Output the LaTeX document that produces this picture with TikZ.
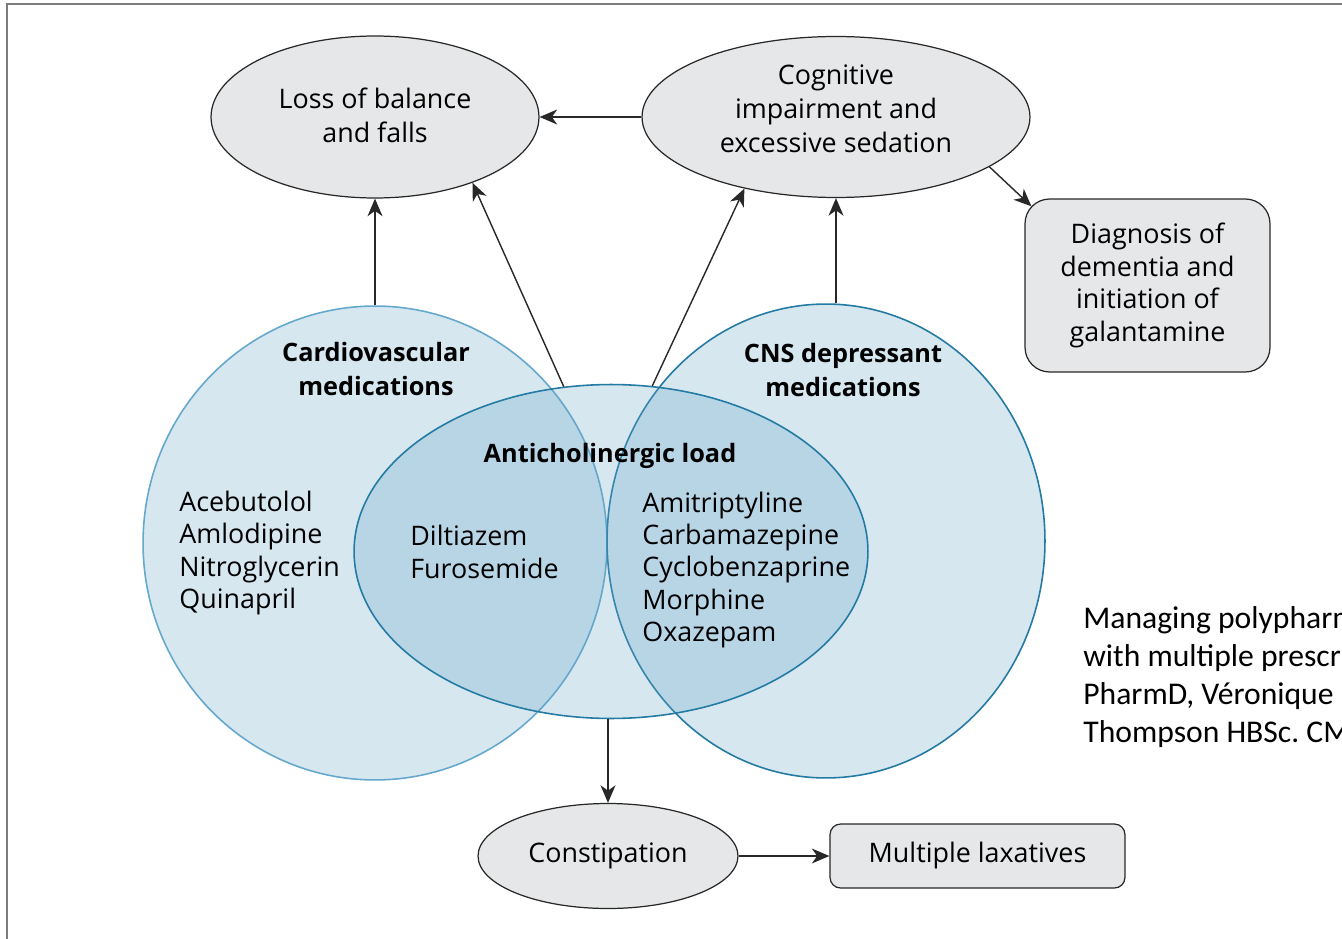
\documentclass[tikz,border=0pt]{standalone}
\usepackage{fontspec}
\setmainfont{Open Sans}
\newfontfamily\notefont{Carlito}
\usetikzlibrary{positioning,shapes,arrows,arrows.meta}
\definecolor{vennfill}{RGB}{103,166,200}
\definecolor{cvline}{RGB}{100,168,205}
\definecolor{acline}{RGB}{35,122,162}
\definecolor{boxfill}{RGB}{230,231,232}
\definecolor{edgegray}{RGB}{40,40,40}
\definecolor{framegray}{RGB}{125,125,125}
\begin{document}
\begin{tikzpicture}[x = .02cm, y = -.02cm, >={Stealth[length=10pt, width=8.5pt, inset=3pt]},
  venn/.style = {ellipse, fill = vennfill, fill opacity = .27, draw opacity = 1, text opacity = 1, line width = .9pt, inner sep = 0},
  outcome/.style = {ellipse, draw = edgegray, fill = boxfill, line width = .7pt, align = center, inner sep = 0, font = \fontsize{15.3}{19.2}\selectfont},
  action/.style = {rectangle, draw = edgegray, fill = boxfill, line width = .7pt, align = center, inner sep = 0, font = \fontsize{15.3}{18.6}\selectfont},
  drugs/.style = {anchor = west, align = left, inner sep = 0, font = \fontsize{15.3}{18.4}\selectfont},
  group/.style = {align = center, inner sep = 0, font = \fontsize{14.4}{19.2}\selectfont\bfseries},
  arr/.style = {->, draw = edgegray, line width = .8pt}]
\useasboundingbox (0,0) rectangle (1342,939);
\draw[framegray, line width = 1.1pt] (7,960) -- (7,4) -- (1360,4);
\node[venn, draw = cvline, minimum width = 9.28cm, minimum height = 9.48cm] (cardio) at (375,543) {};
\node[venn, draw = acline, minimum width = 8.76cm, minimum height = 9.48cm] (cns) at (826,541) {};
\node[venn, draw = acline, minimum width = 10.28cm, minimum height = 6.68cm] (anti) at (611,551.5) {};
\node[group] (cvlabel) at (376,369) {Cardiovascular\\medications};
\node[group] (cnslabel) at (843,370) {CNS depressant\\medications};
\node[group] (aclabel) at (610,456) {Anticholinergic load};
\node[drugs] (cvdrugs) at (179,553) {Acebutolol\\Amlodipine\\Nitroglycerin\\Quinapril};
\node[drugs] (bothdrugs) at (410,552) {Diltiazem\\Furosemide};
\node[drugs] (cnsdrugs) at (642,570) {Amitriptyline\\Carbamazepine\\Cyclobenzaprine\\Morphine\\Oxazepam};
\node[outcome, minimum width = 6.56cm, minimum height = 3.24cm, text depth = 2.4pt] (falls) at (375,117) {Loss of balance\\and falls};
\node[outcome, minimum width = 7.76cm, minimum height = 3.22cm, text depth = 9.6pt] (cognit) at (836,117) {Cognitive\\impairment and\\excessive sedation};
\node[action, rounded corners = 14pt, minimum width = 4.9cm, minimum height = 3.46cm] (dementia) at (1147.5,285.5) {Diagnosis of\\dementia and\\initiation of\\galantamine};
\node[outcome, minimum width = 5.2cm, minimum height = 2.1cm] (constip) at (608,856) {Constipation};
\node[action, rounded corners = 6pt, minimum width = 5.9cm, minimum height = 1.28cm] (laxatives) at (977.5,856) {Multiple laxatives};
\node[anchor = west, align = left, inner sep = 0, font = \notefont\fontsize{18}{21.5}\selectfont] (source) at (1083,677) {Managing polypharm\\with multiple prescr\\PharmD, Véronique\\Thompson HBSc.\ CM};
\draw[arr] (cognit.west) -- (falls.east);
\draw[arr] (cardio.north) -- (falls.south);
\draw[arr] (anti.106) -- (falls.-34);
\draw[arr] (anti.76) -- (cognit.-142);
\draw[arr] (cns.north -| cognit.south) -- (cognit.south);
\draw[arr] (cognit.-18) -- ([xshift = 4pt, yshift = -4.5pt]dementia.north west);
\draw[arr] (anti.south -| constip.north) -- (constip.north);
\draw[arr] (constip.east) -- (laxatives.west);
\end{tikzpicture}
\end{document}
